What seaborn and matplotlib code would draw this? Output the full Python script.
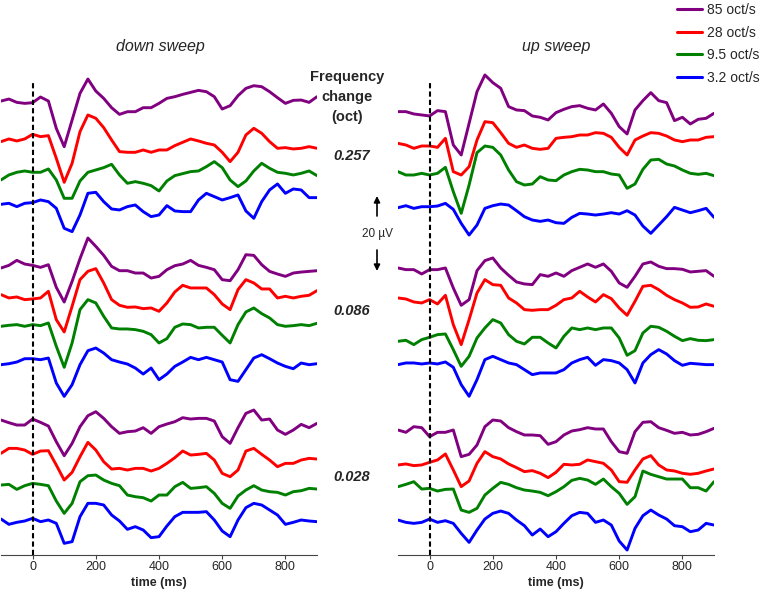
import matplotlib
matplotlib.use("Agg")
import matplotlib.pyplot as plt
from matplotlib.lines import Line2D
import seaborn as sns
import pandas as pd

# one sample every 25 ms
time_ms = list(range(-100, 901, 25))

rates = ['85 oct/s', '28 oct/s', '9.5 oct/s', '3.2 oct/s']
rate_colors = ['#800080', '#ff0000', '#008000', '#0000ff']
freq_changes = ['0.257', '0.086', '0.028']

# amplitudes, in units of 20/225 uV (positive = up)
# ---- down sweep ----
down_257_85 = [2, 8, -2, -5, -3, 14, 2, -80, -135, -55, 25, 68, 32, 10, -18, -38, -30, -30, -18, -18, -5,
               10, 15, 22, 28, 34, 30, 15, -22, -12, 18, 40, 48, 45, 30, 12, -5, 4, 5, -2, 15]
down_257_28 = [-10, -2, -8, -2, 12, 5, 8, -60, -132, -75, 20, 70, 60, 32, -5, -40, -42, -42, -35, -42, -35,
               -35, -22, -12, -2, -8, -15, -20, -42, -70, -42, 10, 30, 15, -10, -30, -28, -32, -30, -25, -30]
down_257_9_5 = [-20, -5, 3, 7, 3, 3, 13, -20, -75, -75, -23, 3, 10, 17, 27, -5, -30, -25, -30, -37, -53,
                -23, -7, -1, 5, 7, 20, 35, 17, -20, -40, -23, 7, 30, 15, 3, 0, -5, 0, 7, -7]
down_257_3_2 = [-3, 0, -10, 0, 2, 10, 5, -15, -75, -85, -35, 30, 33, 5, -17, -20, -10, -5, -25, -40, -35,
                -7, -23, -25, -25, 10, 30, 20, 10, 17, 25, -23, -45, 5, 40, 58, 30, 43, 40, 17, 17]

down_086_85 = [-10, -2, 13, 2, -2, -8, 0, -68, -112, -50, 18, 80, 55, 28, -5, -18, -18, -25, -25, -40, -35,
               -15, -3, 2, 13, -2, -8, -15, -45, -48, -15, 30, 28, 0, -20, -28, -35, -25, -22, -20, -18]
down_086_28 = [8, -2, 1, -7, -5, -2, 18, -67, -104, -27, 53, 78, 86, 43, -7, -24, -30, -29, -34, -32, -42,
               -17, 16, 36, 28, 28, 28, 8, -20, -37, 23, 53, 43, 25, 25, -2, 3, -2, 3, 6, 20]
down_086_9_5 = [-3, 0, 2, -3, 2, -1, 7, -63, -126, -53, 47, 77, 67, 27, -8, -11, -11, -13, -18, -28, -53,
                -40, -6, 4, 2, -8, -6, -6, -30, -53, 2, 40, 52, 35, 22, 2, -3, -1, 2, -1, 6]
down_086_3_2 = [-12, -9, -4, 6, 6, 3, 8, -67, -107, -72, -12, 30, 38, 23, 3, -4, -10, -22, -40, -22, -57,
                -40, -17, -4, 10, 3, 10, 3, -4, -57, -62, -27, 8, 18, 6, -7, -17, -24, -7, -12, -9]

down_028_85 = [8, 0, -7, -7, 11, 1, -10, -57, -99, -62, -12, 21, 33, 13, -12, -32, -27, -25, -15, -32, -12,
               -4, 3, 15, 11, 13, 13, 5, -42, -62, -15, 28, 38, 8, 11, -22, -35, -22, -5, -15, -2]
down_028_28 = [-8, 7, 7, 2, -11, -1, 0, -43, -88, -65, -18, 25, 2, -33, -55, -53, -58, -53, -53, -61, -53,
               -38, -21, -1, -13, -11, -8, -28, -68, -78, -58, -1, 7, -11, -28, -48, -38, -38, -28, -23, -25]
down_028_9_5 = [2, 4, -11, 0, 7, 4, 0, -46, -83, -53, 12, 30, 32, 17, 7, 0, -28, -33, -36, -46, -28,
                -28, -3, 10, -8, -6, -3, -23, -53, -68, -31, -13, 0, -13, -18, -20, -28, -18, -15, -8, -10]
down_028_3_2 = [6, -10, -4, 0, 8, -2, 3, -7, -67, -62, 13, 53, 53, 48, 18, 0, -25, -17, -27, -50, -47,
                -15, 13, 26, 26, 26, 28, 3, -30, -47, 3, 40, 53, 48, 33, 18, -10, -4, 3, 0, -2]

# ---- up sweep ----
up_257_85 = [5, 5, -2, -5, -8, 8, 5, -95, -125, -30, 65, 115, 92, 75, 20, 10, 8, -8, -12, -20, 2,
             12, 20, 23, 15, 10, 28, 0, -40, -62, 10, 38, 62, 38, 32, -22, -12, -32, -18, -15, 0]
up_257_28 = [8, 3, -7, 0, 0, -4, 23, -77, -87, -62, 18, 73, 70, 40, 8, -4, 3, -7, -10, -7, 23,
             26, 28, 33, 33, 40, 38, 26, -4, -27, 18, 30, 40, 38, 30, 18, 13, 18, 18, 26, 28]
up_257_9_5 = [7, -3, -3, 2, -3, 2, 20, -53, -118, -33, 64, 84, 80, 57, 12, -23, -33, -30, -8, -18, -20,
              -3, 7, 14, 12, 7, 7, 0, -3, -43, -30, 14, 42, 44, 30, 24, 12, 2, -1, 2, -5]
up_257_3_2 = [-3, 3, -5, 0, 0, 2, 10, -8, -50, -85, -55, -5, 3, 8, 5, -12, -30, -40, -44, -40, -48,
              -50, -32, -20, -22, -25, -22, -18, -22, -12, -25, -58, -80, -55, -30, -2, -10, -18, -12, -5, -32]

up_086_85 = [7, 2, 2, -11, 2, 2, 7, -53, -105, -88, -1, 29, 37, 7, -15, -35, -41, -43, -13, -18, -8,
             -18, -1, 9, 19, 9, 19, -3, -38, -51, -18, 19, 25, 12, 5, 5, 3, -5, -3, -1, -18]
up_086_28 = [7, 4, -5, -8, 2, -11, 15, -73, -133, -58, 22, 62, 47, 45, 7, -8, -28, -30, -28, -28, -15,
             2, 7, 27, 10, -5, 17, 5, -23, -45, -3, 42, 45, 32, 15, 2, -8, -21, -20, -11, -18]
up_086_9_5 = [-3, 0, -13, 2, 9, 17, 19, -28, -78, -48, 7, 37, 62, 52, 17, -3, -11, 9, 9, -8, -23,
              12, 37, 32, 37, 32, 37, 37, 7, -45, -31, 22, 42, 39, 27, 12, -1, 5, 0, -1, 2]
up_086_3_2 = [-4, 1, 1, -2, 1, -2, 4, -12, -64, -99, -49, 11, 21, 11, 1, -4, -19, -34, -29, -29, -29,
              -19, 1, 11, 18, -6, 11, 8, 1, -19, -59, 1, 26, 41, 28, 8, -6, 0, -2, -4, -4]

up_028_85 = [3, -4, 13, 10, -17, -4, -4, 3, -77, -70, -42, 13, 33, 30, 10, -2, -12, -12, -14, -40, -32,
             -12, 0, 4, 10, 6, 6, -32, -62, -67, -2, 26, 28, 10, 2, -7, -4, -12, -10, -2, 8]
up_028_28 = [-2, 1, -4, -2, 6, 13, 31, -17, -67, -50, 3, 38, 23, 16, 1, -10, -22, -19, -27, -40, -24,
             0, -2, 0, 13, 8, 3, -17, -52, -54, -17, 16, 26, -2, -17, -20, -27, -30, -27, -20, -14]
up_028_9_5 = [0, 7, 15, -7, -5, -13, -8, -7, -70, -77, -65, -25, -5, 13, 7, -3, -10, -13, -17, -27, -15,
              0, 19, 25, 20, 7, 23, 0, -20, -53, -30, 47, 37, 30, 23, 23, 23, -3, -3, -13, 15]
up_028_3_2 = [5, -2, -5, -2, 8, -2, 3, -5, -35, -62, -25, 8, 25, 32, 25, 5, -12, -40, -22, -45, -30,
              -5, 18, 28, 25, -2, 5, -10, -58, -85, -20, 18, 35, 20, 8, -12, -15, -30, -25, -5, -10]

down_traces = [[down_257_85, down_257_28, down_257_9_5, down_257_3_2],
               [down_086_85, down_086_28, down_086_9_5, down_086_3_2],
               [down_028_85, down_028_28, down_028_9_5, down_028_3_2]]
up_traces = [[up_257_85, up_257_28, up_257_9_5, up_257_3_2],
             [up_086_85, up_086_28, up_086_9_5, up_086_3_2],
             [up_028_85, up_028_28, up_028_9_5, up_028_3_2]]

UV_PER_UNIT = 20 / 225
PX_PER_UV = 3.75

# layout: baseline of each trace, in pixels from the top of the figure
down_rows = [[101.7, 138.3, 173.3, 203.3], [264.7, 297.3, 325.3, 360.7], [422.7, 450.7, 485.7, 521.0]]
up_rows = [[113.3, 146.0, 174.0, 206.7], [270.3, 300.3, 340.3, 363.3], [431.0, 464.3, 486.7, 521.7]]

W, H = 767, 608


def fx(x):
    return x / W


def fy(y):
    return 1 - y / H


def build_df(traces, rows):
    recs = []
    for i, change in enumerate(freq_changes):
        for j, rate in enumerate(rates):
            vals = traces[i][j]
            assert len(vals) == len(time_ms), (change, rate, len(vals))
            for t, a in zip(time_ms, vals):
                recs.append({'t': t, 'rate': rate, 'trace': change + rate,
                             'y': a * UV_PER_UNIT - rows[i][j] / PX_PER_UV})
    return pd.DataFrame(recs)


sns.set_style('white')
plt.rcParams['font.family'] = ['Liberation Sans', 'DejaVu Sans']

fig = plt.figure(figsize=(W / 100, H / 100), dpi=100)
AX_TOP, AX_BOT = 60, 555
ax_l = fig.add_axes([fx(1), fy(AX_BOT), (317 - 1) / W, (AX_BOT - AX_TOP) / H])
ax_r = fig.add_axes([fx(398), fy(AX_BOT), (714 - 398) / W, (AX_BOT - AX_TOP) / H])

for ax, traces, rows in [(ax_l, down_traces, down_rows), (ax_r, up_traces, up_rows)]:
    df = build_df(traces, rows)
    sns.lineplot(data=df, x='t', y='y', hue='rate', units='trace', estimator=None,
                 hue_order=rates, palette=rate_colors, lw=2.1, legend=False, ax=ax)
    ax.set_xlim(-100, 900)
    ax.set_ylim(-AX_BOT / PX_PER_UV, -AX_TOP / PX_PER_UV)
    ax.axvline(0, ymin=0, ymax=(AX_BOT - 80) / (AX_BOT - AX_TOP), color='black',
               lw=1.5, ls=(0, (2.5, 1.5)))
    for s in ['left', 'top', 'right']:
        ax.spines[s].set_visible(False)
    ax.spines['bottom'].set_color('#444444')
    ax.spines['bottom'].set_linewidth(0.8)
    ax.set_yticks([])
    ax.set_xticks([0, 200, 400, 600, 800])
    ax.tick_params(axis='x', bottom=True, length=3, width=0.8, pad=1.5, labelsize=9, color='#444444')
    ax.set_xlabel('time (ms)', fontsize=9, fontweight='bold', labelpad=3)
    ax.set_ylabel('')

fig.text(fx(160), fy(47), 'down sweep', ha='center', va='center', fontsize=11.5, style='italic')
fig.text(fx(556), fy(47), 'up sweep', ha='center', va='center', fontsize=11.5, style='italic')
fig.text(fx(347), fy(97), 'Frequency\nchange\n(oct)', ha='center', va='center', fontsize=10.5,
         fontweight='bold', linespacing=1.5, multialignment='center')
for label, yy in zip(freq_changes, [156, 311, 477]):
    fig.text(fx(352), fy(yy), label, ha='center', va='center', fontsize=10.5,
             fontweight='bold', style='italic')

# 20 uV scale bar
fig.text(fx(378), fy(234), '20 µV', ha='center', va='center', fontsize=8.5)
arrow = dict(arrowstyle='-|>', lw=1.2, color='black', shrinkA=0, shrinkB=0, mutation_scale=9)
ax_l.annotate('', xy=(fx(377), fy(196)), xytext=(fx(377), fy(216)),
              xycoords='figure fraction', textcoords='figure fraction', arrowprops=arrow)
ax_l.annotate('', xy=(fx(377), fy(271)), xytext=(fx(377), fy(250)),
              xycoords='figure fraction', textcoords='figure fraction', arrowprops=arrow)

handles = [Line2D([], [], color=c, lw=2.2) for c in rate_colors]
fig.legend(handles, rates, loc='upper left', bbox_to_anchor=(fx(677), fy(3)),
           frameon=False, fontsize=10, handlelength=1.8, handletextpad=0.35,
           labelspacing=0.62, borderpad=0, borderaxespad=0)

fig.savefig('out.png', dpi=100)
